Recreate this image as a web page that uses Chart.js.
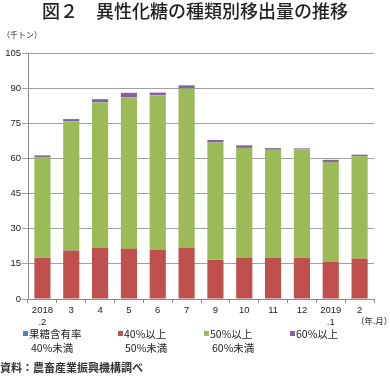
<!DOCTYPE html>
<html lang="ja">
<head>
<meta charset="utf-8">
<script src="https://cdn.jsdelivr.net/npm/chart.js@4/dist/chart.umd.min.js"></script>
<style>
    html, body { margin: 0; padding: 0; background: #fff; }
    #wrap { position: relative; width: 390px; height: 378px; overflow: hidden; font-family: "Noto Sans CJK JP", sans-serif; color: #222; }
    #chart { position: absolute; left: 0; top: 0; }
    .txt { position: absolute; white-space: nowrap; }
    .title { left: 0; width: 390px; top: 0; text-align: center; font-size: 18px; line-height: 21px; font-weight: 500; color: #222; }
    .unit { left: 2px; top: 30px; font-size: 8px; line-height: 10px; }
    .ym { left: 356px; top: 315px; font-size: 8.5px; line-height: 10px; }
    .lg { font-size: 10.5px; line-height: 12px; }
    .lg i { display: inline-block; width: 5px; height: 5px; margin-right: 1px; vertical-align: 2px; }
    .note { left: 0; top: 361px; font-size: 11px; line-height: 13px; font-weight: 700; color: #333; }
</style>
</head>
<body>
<div id="wrap">
    <canvas id="chart" width="390" height="378"></canvas>
    <div class="txt title">図２　異性化糖の種類別移出量の推移</div>
    <div class="txt unit">（千トン）</div>
    <div class="txt ym">（年.月）</div>
    <div id="legend"></div>
    <div class="txt note">資料：農畜産業振興機構調べ</div>
</div>
<script>
// months (2018.2 - 2019.2, no 2018.8)
const categories = [['2018', '.2'], '3', '4', '5', '6', '7', '9', '10', '11', '12', ['2019', '.1'], '2'];

// thousand tons, by fructose content
const under40 = [0, 0, 0, 0, 0, 0, 0, 0, 0, 0, 0, 0];
const from40to50 = [17.6, 20.7, 22.0, 21.5, 21.1, 22.0, 16.7, 17.7, 17.7, 17.6, 15.8, 17.2];
const from50to60 = [42.8, 55.2, 61.9, 64.6, 65.9, 67.8, 50.1, 46.8, 46.0, 46.3, 42.7, 43.7];
const over60 = [0.9, 0.9, 1.4, 1.9, 1.1, 1.4, 1.1, 1.1, 0.7, 0.4, 0.9, 0.7];

const yTicks = [0, 15, 30, 45, 60, 75, 90, 105];

const seriesNames = [['果糖含有率', '40%未満'], ['40%以上', '50%未満'], ['50%以上', '60%未満'], ['60%以上']];
const seriesColors = ['#4F81BD', '#C0504D', '#9BBB59', '#8064A2'];

// HTML legend (two-line labels)
const legendPos = [[23, 31], [118, 125], [204, 212], [290, 0]];
const legend = document.getElementById('legend');
seriesNames.forEach((name, i) => {
    const first = document.createElement('div');
    first.className = 'txt lg';
    first.style.left = legendPos[i][0] + 'px';
    first.style.top = '328px';
    first.innerHTML = `<i style="background:${seriesColors[i]}"></i>${name[0]}`;
    legend.appendChild(first);
    if (name[1]) {
        const second = document.createElement('div');
        second.className = 'txt lg';
        second.style.left = legendPos[i][1] + 'px';
        second.style.top = '342px';
        second.textContent = name[1];
        legend.appendChild(second);
    }
});

const numFont = { family: "'Liberation Sans', Arial, sans-serif", size: 9.5 };

new Chart(document.getElementById('chart'), {
    type: 'bar',
    data: {
        labels: categories,
        datasets: [under40, from40to50, from50to60, over60].map((values, i) => ({
            label: seriesNames[i].join(''),
            data: values,
            backgroundColor: seriesColors[i],
            borderWidth: 0,
            categoryPercentage: 1,
            barPercentage: 0.56
        }))
    },
    options: {
        responsive: false,
        animation: false,
        layout: { padding: { top: 53, right: 16, bottom: 48, left: 0 } },
        plugins: {
            legend: { display: false },
            tooltip: { enabled: false }
        },
        scales: {
            x: {
                stacked: true,
                grid: { drawOnChartArea: false, tickLength: 4, color: '#8a8a8a' },
                border: { color: '#8a8a8a', width: 1 },
                ticks: { font: numFont, color: '#222', padding: 2, maxRotation: 0, autoSkip: false },
                afterFit: (scale) => { scale.height = 31; }
            },
            y: {
                stacked: true,
                min: 0,
                max: 105,
                afterBuildTicks: (scale) => { scale.ticks = yTicks.map(v => ({ value: v })); },
                grid: { color: '#a0a0a0', tickLength: 6 },
                border: { color: '#8a8a8a', width: 1 },
                ticks: { font: numFont, color: '#222', padding: 1 },
                afterFit: (scale) => { scale.width = 28; }
            }
        }
    }
});
</script>
</body>
</html>
